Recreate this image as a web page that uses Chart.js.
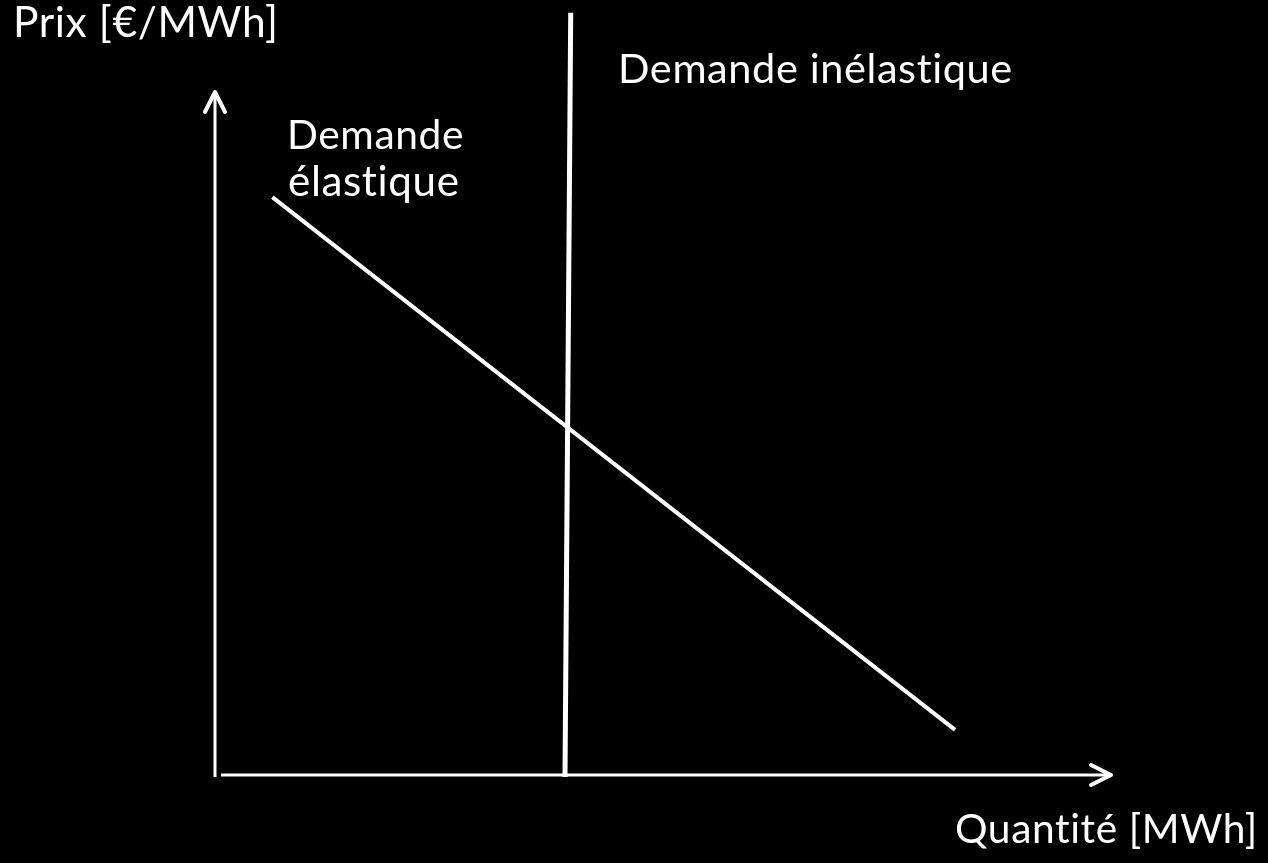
<!DOCTYPE html>
<html>
<head>
<meta charset="utf-8">
<script src="https://cdn.jsdelivr.net/npm/chart.js@4"></script>
<style>
  html, body { margin: 0; padding: 0; background: #000; }
  #wrap { width: 1268px; height: 863px; }
</style>
</head>
<body>
<div id="wrap"><canvas id="demand-chart"></canvas></div>
<script>
// quantity (x) and price (y) in axis units, 0..100 spans the drawn axes
const elasticQ = [6.4, 82.6];
const elasticP = [84.6, 6.6];
const inelasticQ = [39.7, 39.06];
const inelasticP = [111.6, -0.3];

const yAxisQ = [0, 0];
const yAxisP = [-0.3, 100];
const xAxisQ = [0.67, 100];
const xAxisP = [0, 0];

const yArrowQ = [-1.12, 0, 1.12];
const yArrowP = [97.07, 100, 97.07];
const xArrowQ = [97.77, 100, 97.77];
const xArrowP = [1.46, 0, -1.46];

const labelTexts = ["Prix [€/MWh]", "Demande inélastique", "Demande", "élastique", "Quantité [MWh]"];

const toPoints = (qs, ps) => qs.map((q, i) => ({ x: q, y: ps[i] }));

const lineSet = (qs, ps, width, cap) => ({
  data: toPoints(qs, ps),
  showLine: true,
  borderColor: "#fff",
  borderWidth: width,
  borderCapStyle: cap || "butt",
  borderJoinStyle: "round",
  pointRadius: 0,
  clip: false,
  tension: 0,
});

// label placement: left x, baseline y, target width (pixels)
const labelBoxes = [
  [13, 37, 266],
  [618, 83, 395],
  [287, 149, 177],
  [288, 196, 172],
  [955, 843, 303],
];

const textPlugin = {
  id: "textLabels",
  afterDraw(chart) {
    const ctx = chart.ctx;
    ctx.save();
    ctx.fillStyle = "#fff";
    ctx.textBaseline = "alphabetic";
    ctx.textAlign = "left";
    // a little spacing keeps Lato from joining "ti" into a ligature
    if ("letterSpacing" in ctx) ctx.letterSpacing = "0.6px";
    labelTexts.forEach((txt, i) => {
      const [x, y, w] = labelBoxes[i];
      ctx.font = "40px Lato";
      const m = ctx.measureText(txt).width;
      const size = 40 * w / m;
      ctx.font = size.toFixed(1) + "px Lato";
      ctx.fillText(txt, x, y);
    });
    ctx.restore();
  }
};

new Chart(document.getElementById("demand-chart").getContext("2d"), {
  type: "scatter",
  data: {
    datasets: [
      lineSet(yAxisQ, yAxisP, 3),
      lineSet(xAxisQ, xAxisP, 3),
      lineSet(yArrowQ, yArrowP, 4, "round"),
      lineSet(xArrowQ, xArrowP, 4, "round"),
      lineSet(elasticQ, elasticP, 4),
      lineSet(inelasticQ, inelasticP, 5),
    ]
  },
  options: {
    responsive: true,
    maintainAspectRatio: false,
    animation: false,
    layout: { padding: { left: 215, right: 157, top: 92, bottom: 88 } },
    plugins: { legend: { display: false }, tooltip: { enabled: false } },
    scales: {
      x: { type: "linear", min: 0, max: 100, display: false },
      y: { type: "linear", min: 0, max: 100, display: false },
    },
  },
  plugins: [textPlugin],
});
</script>
</body>
</html>
